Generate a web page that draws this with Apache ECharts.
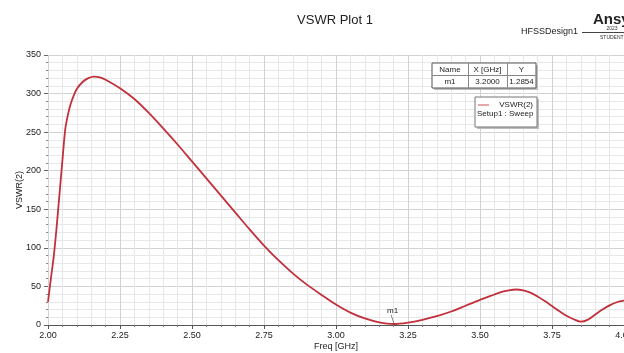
<!DOCTYPE html>
<html>
<head>
<meta charset="utf-8">
<script src="https://cdn.jsdelivr.net/npm/echarts@6/dist/echarts.min.js"></script>
<style>html,body{margin:0;padding:0;background:#fff;}#c{width:624px;height:353px;}</style>
</head>
<body>
<div id="c"></div>
<script>
const freqGHz = [2.00, 2.01, 2.02, 2.03, 2.04, 2.05, 2.06, 2.07, 2.08, 2.09, 2.10, 2.12, 2.14, 2.16, 2.18, 2.20,
  2.25, 2.30, 2.35, 2.40, 2.45, 2.50, 2.55, 2.60, 2.65, 2.70, 2.75, 2.80, 2.85, 2.90, 2.95,
  3.00, 3.05, 3.10, 3.15, 3.20, 3.25, 3.30, 3.35, 3.40, 3.45, 3.50, 3.55, 3.575, 3.60, 3.625, 3.65, 3.675, 3.70,
  3.725, 3.75, 3.775, 3.80, 3.825, 3.85, 3.875, 3.90, 3.925, 3.95, 3.975, 4.00];
const vswr2 = [30, 60, 89, 127, 170, 213, 254, 274, 288, 298, 306, 315, 320, 322, 321, 318,
  307, 293, 275, 255, 234, 212, 190, 168, 146, 124, 103, 84, 67, 52, 39,
  26.5, 16, 8.5, 3.5, 1.3, 3.2, 6.8, 11.5, 17.5, 25, 32.5, 39.5, 43, 45, 46, 45, 42, 37,
  31, 24.5, 18, 12, 7.5, 4.3, 7, 13.5, 20, 25.5, 29.5, 31.5];
const xTicks = [2.00, 2.25, 2.50, 2.75, 3.00, 3.25, 3.50, 3.75, 4.00];
const yTicks = [0, 50, 100, 150, 200, 250, 300, 350];
const markerName = 'm1';
const markerX = 3.2000;
const markerY = 1.2854;
const tableHeader = ['Name', 'X [GHz]', 'Y'];
const tableRow = [markerName, markerX.toFixed(4), markerY.toFixed(4)];
const seriesName = 'VSWR(2)';
const setupName = 'Setup1 : Sweep';

const FONT = '"Liberation Sans", Arial, sans-serif';
const chart = echarts.init(document.getElementById('c'), null, {renderer: 'canvas'});

const points = freqGHz.map((f, i) => [f, vswr2[i]]);

function tableGraphics() {
  const g = [];
  const x0 = 432, y0 = 63, w = 104, h = 25;
  const cols = [432, 468, 507, 536];
  g.push({type: 'rect', shape: {x: x0 + 2, y: y0 + 2, width: w, height: h}, style: {fill: '#bdbdbd'}, z: 10});
  g.push({type: 'rect', shape: {x: x0, y: y0, width: w, height: h}, style: {fill: '#fff', stroke: '#555', lineWidth: 1}, z: 11});
  g.push({type: 'line', shape: {x1: x0, y1: 75.5, x2: x0 + w, y2: 75.5}, style: {stroke: '#888', lineWidth: 1}, z: 12});
  g.push({type: 'line', shape: {x1: 468.5, y1: y0, x2: 468.5, y2: y0 + h}, style: {stroke: '#888', lineWidth: 1}, z: 12});
  g.push({type: 'line', shape: {x1: 507.5, y1: y0, x2: 507.5, y2: y0 + h}, style: {stroke: '#888', lineWidth: 1}, z: 12});
  for (let i = 0; i < 3; i++) {
    const cx = (cols[i] + cols[i + 1]) / 2;
    g.push({type: 'text', x: cx, y: 69.5, style: {text: tableHeader[i], font: '8px ' + FONT, fill: '#222', align: 'center', verticalAlign: 'middle'}, z: 13});
    g.push({type: 'text', x: cx, y: 81.5, style: {text: tableRow[i], font: '8px ' + FONT, fill: '#222', align: 'center', verticalAlign: 'middle'}, z: 13});
  }
  const lx = 475, ly = 97, lw = 62, lh = 30;
  g.push({type: 'rect', shape: {x: lx + 2, y: ly + 2, width: lw, height: lh}, style: {fill: '#bdbdbd'}, z: 10});
  g.push({type: 'rect', shape: {x: lx, y: ly, width: lw, height: lh}, style: {fill: '#fff', stroke: '#777', lineWidth: 1}, z: 11});
  g.push({type: 'line', shape: {x1: 478, y1: 105, x2: 489, y2: 105}, style: {stroke: '#e08a8a', lineWidth: 1.5}, z: 12});
  g.push({type: 'text', x: 533, y: 105, style: {text: seriesName, font: '8px ' + FONT, fill: '#222', align: 'right', verticalAlign: 'middle'}, z: 13});
  g.push({type: 'text', x: 477, y: 114, style: {text: setupName, font: '8px ' + FONT, fill: '#222', align: 'left', verticalAlign: 'middle'}, z: 13});
  return g;
}

const graphics = [
  {type: 'text', x: 335, y: 20, style: {text: 'VSWR Plot 1', font: '13px ' + FONT, fill: '#222', align: 'center', verticalAlign: 'middle'}},
  {type: 'text', x: 578, y: 32, style: {text: 'HFSSDesign1', font: '9px ' + FONT, fill: '#222', align: 'right', verticalAlign: 'middle'}},
  {type: 'text', x: 593, y: 20, style: {text: 'Ansys', font: 'bold 15px ' + FONT, fill: '#222', align: 'left', verticalAlign: 'middle'}},
  {type: 'text', x: 612, y: 28.5, style: {text: '2023', font: '5px ' + FONT, fill: '#333', align: 'center', verticalAlign: 'middle'}},
  {type: 'line', shape: {x1: 582, y1: 32.5, x2: 624, y2: 32.5}, style: {stroke: '#444', lineWidth: 1}},
  {type: 'text', x: 600, y: 38, style: {text: 'STUDENT', font: '5px ' + FONT, fill: '#333', align: 'left', verticalAlign: 'middle'}}
].concat(tableGraphics());

chart.setOption({
  animation: false,
  backgroundColor: '#fff',
  textStyle: {fontFamily: FONT},
  grid: {left: 48, right: 0, top: 55, bottom: 28, containLabel: false, outerBoundsMode: 'none'},
  xAxis: {
    type: 'value', min: 2, max: 4, interval: 0.25,
    name: 'Freq [GHz]', nameLocation: 'middle', nameGap: 17, nameMoveOverlap: false,
    nameTextStyle: {fontSize: 9, color: '#222', fontFamily: FONT},
    axisLine: {show: true, lineStyle: {color: '#555', width: 1}},
    axisTick: {show: true, length: 4, lineStyle: {color: '#555'}},
    minorTick: {show: true, splitNumber: 5, length: 2, lineStyle: {color: '#777'}},
    axisLabel: {fontSize: 9, color: '#222', margin: 6, formatter: v => {
      const t = xTicks.find(x => Math.abs(x - v) < 1e-6); return t === undefined ? '' : t.toFixed(2); }},
    splitLine: {show: true, lineStyle: {color: '#d2d2d2', width: 1}},
    minorSplitLine: {show: true, lineStyle: {color: '#e8e8e8', width: 1}}
  },
  yAxis: {
    type: 'value', min: 0, max: 350, interval: 50,
    name: 'VSWR(2)', nameLocation: 'middle', nameGap: 24, nameRotate: 90, nameMoveOverlap: false,
    nameTextStyle: {fontSize: 9, color: '#222', fontFamily: FONT},
    axisLine: {show: false},
    axisTick: {show: true, length: 4, lineStyle: {color: '#666'}},
    minorTick: {show: true, splitNumber: 5, length: 2, lineStyle: {color: '#888'}},
    axisLabel: {fontSize: 9, color: '#222', margin: 7, formatter: v => {
      const t = yTicks.find(y => Math.abs(y - v) < 1e-6); return t === undefined ? '' : String(t); }},
    splitLine: {show: true, lineStyle: {color: '#d2d2d2', width: 1}},
    minorSplitLine: {show: true, lineStyle: {color: '#e8e8e8', width: 1}}
  },
  series: [{
    type: 'line', name: seriesName, data: points, smooth: 0.3, showSymbol: false,
    lineStyle: {color: '#c2303c', width: 1.8},
    markPoint: {
      symbol: 'path://M0,0 L3,10', symbolSize: [3, 9], symbolOffset: [-1, -4.5],
      itemStyle: {color: 'rgba(0,0,0,0)', borderColor: '#555', borderWidth: 0.8},
      label: {show: true, position: 'top', distance: 0, formatter: markerName, fontSize: 8, color: '#222', fontFamily: FONT},
      data: [{coord: [markerX, markerY]}]
    }
  }],
  graphic: graphics
});
</script>
</body>
</html>
